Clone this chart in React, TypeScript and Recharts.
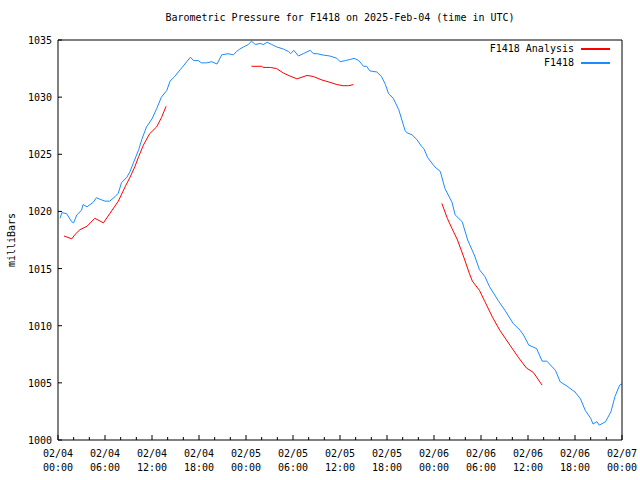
import { LineChart, Line, XAxis, YAxis, Legend } from "recharts"

// hours since 2025-02-04 00:00 UTC
const stationHours = [
  0.26, 0.5, 1.1, 1.75, 2.0, 2.4, 3.0, 3.2, 3.7, 4.5, 4.9, 5.6, 6.0, 6.6, 7.3, 7.7, 8.1, 8.8, 9.2, 9.6,
  10.3, 10.7, 11.3, 12.0, 12.6, 13.2, 13.9, 14.3, 14.9, 15.6, 16.2, 16.9, 17.3, 17.9, 18.3, 19.0, 19.6,
  20.3, 20.9, 21.7, 22.4, 22.8, 23.2, 23.7, 24.3, 24.7, 25.2, 25.8, 26.2, 26.7, 27.3, 27.9, 28.8, 29.4,
  29.7, 30.1, 30.7, 31.3, 32.2, 32.6, 33.1, 33.7, 34.7, 35.6, 36.0, 36.7, 37.3, 37.8, 38.4, 39.0, 39.4,
  39.8, 40.7, 41.3, 41.8, 42.2, 42.8, 43.5, 43.9, 44.3, 44.5, 45.2, 45.8, 46.4, 46.7, 47.2, 48.1, 48.8,
  49.4, 50.3, 50.7, 51.6, 52.3, 53.2, 53.8, 54.5, 55.1, 56.2, 57.1, 58.1, 59.0, 59.5, 60.1, 61.1, 61.8,
  62.4, 63.5, 64.1, 65.0, 66.0, 66.7, 67.3, 68.0, 68.3, 68.8, 69.1, 69.9, 70.6, 71.1, 71.7, 72.0,
]
const stationPressure = [
  1019.4, 1019.9, 1019.8, 1019.1, 1019.0, 1019.7, 1020.1, 1020.6, 1020.4, 1020.8, 1021.2, 1021.0, 1020.9,
  1020.9, 1021.3, 1021.6, 1022.5, 1023.0, 1023.5, 1024.2, 1025.4, 1026.3, 1027.4, 1028.1, 1029.0, 1030.0,
  1030.6, 1031.4, 1031.8, 1032.4, 1032.9, 1033.5, 1033.2, 1033.2, 1033.0, 1033.0, 1033.1, 1032.9, 1033.7,
  1033.8, 1033.7, 1034.0, 1034.2, 1034.4, 1034.6, 1034.9, 1034.6, 1034.7, 1034.6, 1034.8, 1034.6, 1034.4,
  1034.2, 1034.0, 1033.8, 1034.1, 1033.6, 1033.8, 1034.1, 1033.8, 1033.8, 1033.7, 1033.6, 1033.4, 1033.1,
  1033.2, 1033.3, 1033.4, 1033.2, 1032.7, 1032.7, 1032.3, 1032.2, 1031.8, 1031.1, 1030.3, 1029.9, 1028.9,
  1028.0, 1027.1, 1026.9, 1026.7, 1026.3, 1025.7, 1025.5, 1024.7, 1023.9, 1023.5, 1022.0, 1020.8, 1019.7,
  1019.1, 1017.5, 1016.1, 1014.9, 1014.3, 1013.4, 1012.2, 1011.3, 1010.2, 1009.6, 1009.1, 1008.3, 1008.0,
  1006.9, 1006.9, 1006.1, 1005.1, 1004.7, 1004.2, 1003.6, 1002.6, 1001.9, 1001.4, 1001.6, 1001.3, 1001.6,
  1002.5, 1003.8, 1004.8, 1004.9,
]

// analysis runs, null marks a gap between runs
const analysisHours = [
  0.77, 1.75, 2.2, 2.8, 3.7, 4.7, 5.8, 6.6, 7.7, 8.6, 9.2, 9.8, 10.3, 10.9, 11.7, 12.6, 13.2, 13.8,
  19.0,
  24.7, 26.0, 26.2, 27.1, 27.9, 28.8, 29.6, 30.5, 31.8, 32.6, 33.7, 34.7, 35.6, 36.4, 37.1, 37.7,
  43.0,
  49.0, 49.7, 50.3, 51.0, 51.8, 52.5, 52.9, 53.8, 54.5, 55.5, 56.4, 57.7, 58.8, 59.8, 60.7, 61.8,
]
const analysisPressure = [
  1017.85, 1017.6, 1018.0, 1018.4, 1018.7, 1019.4, 1019.0, 1019.8, 1020.9, 1022.2, 1023.0, 1023.9, 1024.8,
  1025.8, 1026.8, 1027.4, 1028.2, 1029.2,
  null,
  1032.7, 1032.7, 1032.6, 1032.6, 1032.5, 1032.1, 1031.85, 1031.6, 1031.9, 1031.8, 1031.5, 1031.3, 1031.1,
  1031.0, 1031.0, 1031.1,
  null,
  1020.7, 1019.4, 1018.5, 1017.5, 1016.0, 1014.6, 1013.9, 1013.1, 1012.1, 1010.7, 1009.6, 1008.3, 1007.2,
  1006.3, 1005.9, 1004.8,
]

const hourTicks = Array.from({ length: 37 }, (_, i) => i * 2)
const pressureTicks = [1000, 1005, 1010, 1015, 1020, 1025, 1030, 1035]
const seriesNames = ["F1418 Analysis", "F1418"]
const seriesColors = ["#ff0000", "#1a8cff"]

const stationData = stationHours.map((h, i) => ({ h, p: stationPressure[i] }))
const analysisData = analysisHours.map((h, i) => ({ h, p: analysisPressure[i] }))

const FONT = "'DejaVu Sans Mono', monospace"
const pad = (n: number) => String(n).padStart(2, "0")

function BottomTick({ x, y, payload }: any) {
  const h = payload.value
  const major = h % 6 === 0
  return (
    <g>
      <line x1={x} y1={y} x2={x} y2={y - (major ? 5 : 3)} stroke="#000" />
      {major && (
        <text x={x} y={y} textAnchor="middle" fontFamily={FONT} fontSize={10} fill="#000">
          <tspan x={x} dy={17}>{`02/${pad(4 + Math.floor(h / 24))}`}</tspan>
          <tspan x={x} dy={14}>{`${pad(h % 24)}:00`}</tspan>
        </text>
      )}
    </g>
  )
}

function TopTick({ x, y, payload }: any) {
  const major = payload.value % 6 === 0
  return <line x1={x} y1={y} x2={x} y2={y + (major ? 5 : 3)} stroke="#000" />
}

function LeftTick({ x, y, payload }: any) {
  return (
    <g>
      <line x1={x} y1={y} x2={x + 4} y2={y} stroke="#000" />
      <text x={x - 6} y={y + 4} textAnchor="end" fontFamily={FONT} fontSize={10} fill="#000">
        {payload.value}
      </text>
    </g>
  )
}

function RightTick({ x, y }: any) {
  return <line x1={x} y1={y} x2={x - 4} y2={y} stroke="#000" />
}

function LegendBox({ payload }: any) {
  const items = [...(payload || [])].sort(
    (a: any, b: any) => seriesNames.indexOf(a.value) - seriesNames.indexOf(b.value)
  )
  return (
    <div style={{ fontFamily: FONT, fontSize: 10, lineHeight: "14px" }}>
      {items.map((p: any) => (
        <div key={p.value} style={{ display: "flex", alignItems: "center", justifyContent: "flex-end", height: 14 }}>
          <span>{p.value}</span>
          <span
            style={{
              display: "inline-block",
              width: 29,
              height: 0,
              marginLeft: 7,
              borderTop: `2px solid ${seriesColors[seriesNames.indexOf(p.value)]}`,
            }}
          />
        </div>
      ))}
    </div>
  )
}

export default function App() {
  return (
    <div style={{ position: "absolute", left: 0, top: 0, width: 640, height: 480, background: "#fff" }}>
      <div
        style={{
          position: "absolute",
          left: 58,
          width: 564,
          top: 12,
          textAlign: "center",
          fontFamily: FONT,
          fontSize: 10,
        }}
      >
        Barometric Pressure for F1418 on 2025-Feb-04 (time in UTC)
      </div>
      <div
        style={{
          position: "absolute",
          left: 11,
          top: 240,
          transform: "translate(-50%, -50%) rotate(-90deg)",
          fontFamily: FONT,
          fontSize: 10,
          whiteSpace: "nowrap",
        }}
      >
        milliBars
      </div>
      <LineChart width={640} height={480} margin={{ top: 39, right: 17, bottom: 0, left: 0 }}>
        <XAxis
          dataKey="h"
          type="number"
          domain={[0, 72]}
          ticks={hourTicks}
          interval={0}
          height={40}
          tickSize={0}
          tickMargin={0}
          tickLine={false}
          axisLine={{ stroke: "#000" }}
          tick={<BottomTick />}
          allowDataOverflow
        />
        <XAxis
          xAxisId="top"
          dataKey="h"
          orientation="top"
          type="number"
          domain={[0, 72]}
          ticks={hourTicks}
          interval={0}
          height={1}
          tickSize={0}
          tickMargin={0}
          tickLine={false}
          axisLine={{ stroke: "#000" }}
          tick={<TopTick />}
        />
        <YAxis
          type="number"
          domain={[1000, 1035]}
          ticks={pressureTicks}
          interval={0}
          width={58}
          tickSize={0}
          tickMargin={0}
          tickLine={false}
          axisLine={{ stroke: "#000" }}
          tick={<LeftTick />}
          allowDataOverflow
        />
        <YAxis
          yAxisId="right"
          orientation="right"
          type="number"
          domain={[1000, 1035]}
          ticks={pressureTicks}
          interval={0}
          width={1}
          tickSize={0}
          tickMargin={0}
          tickLine={false}
          axisLine={{ stroke: "#000" }}
          tick={<RightTick />}
        />
        <Legend
          layout="horizontal"
          align="center"
          verticalAlign="middle"
          content={<LegendBox />}
          wrapperStyle={{ position: "absolute", top: 42, left: 410, width: 200 }}
        />
        <Line
          name={seriesNames[0]}
          data={analysisData}
          dataKey="p"
          type="linear"
          stroke={seriesColors[0]}
          strokeWidth={1}
          dot={false}
          isAnimationActive={false}
        />
        <Line
          name={seriesNames[1]}
          data={stationData}
          dataKey="p"
          type="linear"
          stroke={seriesColors[1]}
          strokeWidth={1}
          dot={false}
          isAnimationActive={false}
        />
      </LineChart>
    </div>
  )
}
